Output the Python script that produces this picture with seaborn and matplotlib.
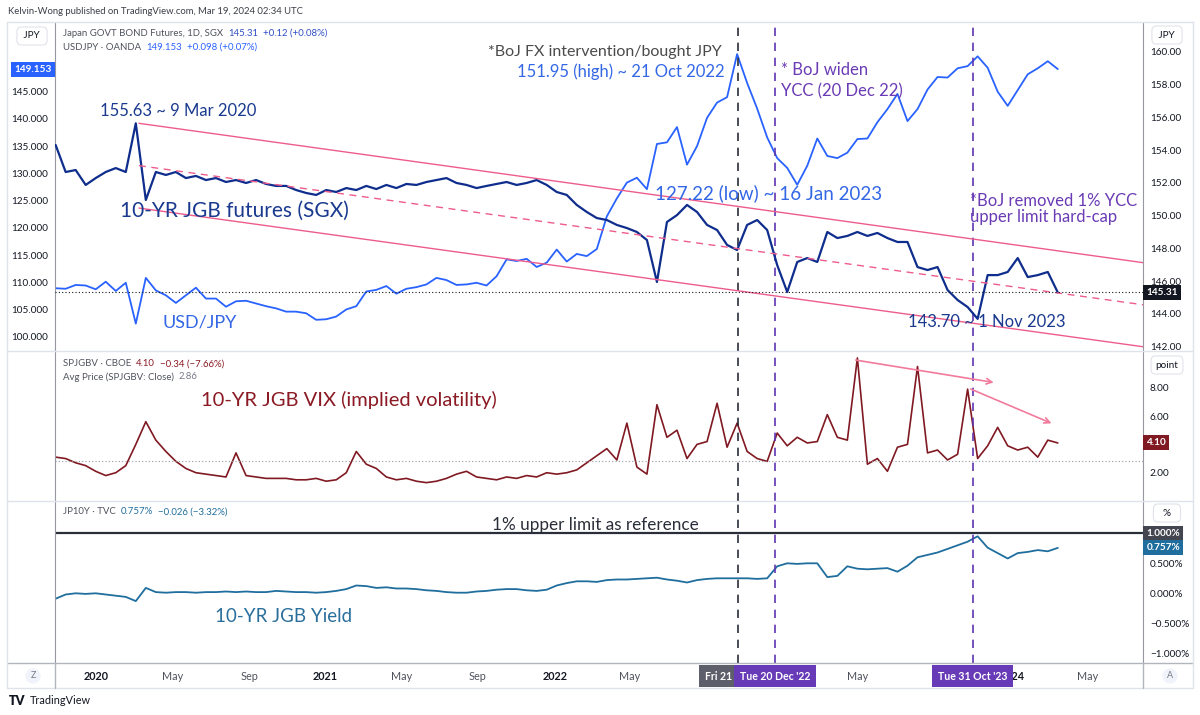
import numpy as np
import pandas as pd
import matplotlib.pyplot as plt
import matplotlib.transforms as mtransforms
from matplotlib.lines import Line2D
from matplotlib.ticker import FuncFormatter
import seaborn as sns

# readings taken every 16 days (one per ~10 px of the chart), starting 28 Oct 2019
start_date = '2019-10-28'
step = '16D'

jgb_futures = [154.31, 152.66, 152.78, 151.87, 152.29, 152.66, 152.90, 152.66, 155.63, 150.95,
               152.66, 152.48, 152.66, 152.29, 152.42, 152.17, 152.29, 152.05, 152.17, 151.99,
               152.17, 151.93, 151.81, 151.81, 151.56, 151.38, 151.26, 151.56, 151.44, 151.68,
               151.56, 151.81, 151.62, 151.87, 151.68, 151.93, 151.87, 152.05, 152.17, 152.29,
               151.99, 151.87, 151.68, 151.81, 151.93, 152.05, 151.87, 151.99, 152.17, 151.87,
               151.44, 151.26, 150.65, 150.22, 149.85, 149.73, 149.43, 149.24, 149.00, 148.51,
               145.95, 149.61, 150.03, 150.65, 150.22, 149.43, 149.12, 148.21, 147.90, 149.43,
               149.73, 149.12, 146.98, 145.34, 147.17, 147.41, 147.17, 149.00, 148.63, 148.76,
               149.00, 148.76, 148.94, 148.63, 148.39, 148.39, 146.86, 146.68, 146.86, 145.46,
               144.85, 144.42, 143.70, 146.37, 146.37, 146.56, 147.41, 146.25, 146.37, 146.56,
               145.31]

usdjpy = [108.9, 108.8, 109.5, 109.4, 108.7, 110.1, 108.4, 109.9, 102.4, 110.8,
          108.5, 107.6, 106.2, 107.6, 109.0, 107.0, 107.0, 105.5, 106.5, 106.6,
          106.1, 105.6, 105.2, 104.6, 104.6, 104.3, 103.1, 103.2, 103.7, 105.0,
          105.6, 108.3, 108.6, 109.3, 107.9, 108.8, 109.1, 109.6, 110.8, 110.4,
          109.5, 109.6, 109.9, 109.4, 111.1, 114.2, 113.9, 114.3, 112.8, 113.6,
          116.0, 113.8, 115.2, 114.8, 116.1, 122.1, 125.4, 128.3, 129.2, 127.1,
          135.4, 135.7, 138.5, 131.6, 135.0, 140.2, 143.0, 144.0, 151.9, 146.6,
          141.9, 136.6, 132.8, 131.0, 127.9, 131.4, 136.4, 133.2, 132.8, 133.8,
          136.3, 136.4, 139.4, 141.8, 144.6, 139.6, 141.8, 145.4, 147.7, 147.6,
          149.3, 149.7, 151.5, 149.4, 145.0, 142.4, 145.3, 148.2, 149.3, 150.6,
          149.15]

jgb_vix = [3.1, 3.0, 2.7, 2.5, 2.1, 1.8, 2.0, 2.5, 4.0, 5.6,
           4.3, 3.5, 2.8, 2.3, 2.0, 1.9, 1.8, 1.7, 3.4, 1.8,
           1.7, 1.6, 1.6, 1.6, 1.5, 1.5, 1.6, 1.4, 1.5, 2.0,
           3.5, 2.6, 2.3, 1.7, 1.5, 1.6, 1.4, 1.3, 1.4, 1.6,
           1.9, 2.1, 1.7, 1.6, 1.5, 1.7, 1.6, 1.8, 1.7, 2.0,
           1.9, 2.0, 2.2, 2.7, 3.2, 3.7, 2.9, 5.5, 2.4, 1.9,
           6.8, 4.5, 5.0, 3.0, 4.0, 4.2, 6.9, 3.8, 5.5, 3.5,
           3.0, 2.8, 4.8, 3.9, 4.5, 4.1, 4.2, 6.1, 4.5, 4.3,
           10.1, 2.6, 3.0, 2.1, 3.8, 4.0, 9.5, 3.4, 3.6, 2.9,
           3.3, 7.9, 3.0, 3.9, 5.2, 3.9, 3.6, 3.8, 3.1, 4.3,
           4.10]

jgb_yield = [-0.09, -0.02, 0.00, -0.01, 0.00, -0.02, -0.04, -0.06, -0.13, 0.09,
             0.02, 0.01, 0.02, 0.02, 0.01, 0.02, 0.02, 0.03, 0.02, 0.03,
             0.02, 0.02, 0.04, 0.03, 0.02, 0.02, 0.01, 0.02, 0.04, 0.07,
             0.13, 0.12, 0.09, 0.10, 0.08, 0.08, 0.07, 0.05, 0.04, 0.02,
             0.01, 0.01, 0.03, 0.04, 0.06, 0.07, 0.07, 0.05, 0.04, 0.06,
             0.13, 0.17, 0.20, 0.20, 0.19, 0.22, 0.23, 0.23, 0.24, 0.25,
             0.26, 0.23, 0.21, 0.18, 0.22, 0.24, 0.25, 0.25, 0.25, 0.25,
             0.24, 0.25, 0.45, 0.50, 0.49, 0.50, 0.50, 0.27, 0.29, 0.45,
             0.41, 0.40, 0.41, 0.42, 0.36, 0.46, 0.60, 0.64, 0.68, 0.74,
             0.80, 0.86, 0.95, 0.76, 0.67, 0.58, 0.67, 0.69, 0.72, 0.70,
             0.757]

# last values and reference levels
jgb_last = 145.31
usdjpy_last = 149.153
vix_last = 4.10
vix_avg = 2.86
yield_last = 0.757
yield_cap = 1.0

# descending channel on the JGB futures
channel_dates = ['2020-03-09', '2024-07-29']
channel_upper = [155.63, 147.13]
channel_mid = [153.05, 144.56]
channel_lower = [150.46, 142.00]

# lower highs on the VIX
vix_arrow_starts = [('2023-04-23', 9.98), ('2023-10-24', 7.98)]
vix_arrow_ends = [('2023-12-08', 8.34), ('2024-03-09', 5.41)]

# BoJ events
event_dates = ['2022-10-21', '2022-12-20', '2023-10-31']
event_tags = ['Fri 21', "Tue 20 Dec '22", "Tue 31 Oct '23"]
event_line_colors = ['#2a2e39', '#5e35b1', '#5e35b1']
event_tag_colors = ['#5d606b', '#673ab7', '#673ab7']

# time scale labels (the ones hidden behind the event tags are left out)
tick_dates = ['2020-01-01', '2020-05-01', '2020-09-01', '2021-01-01', '2021-05-03', '2021-09-01',
              '2022-01-03', '2022-05-02', '2023-05-01', '2024-01-02', '2024-05-01']
tick_labels = ['2020', 'May', 'Sep', '2021', 'May', 'Sep', '2022', 'May', 'May', '2024', 'May']

df = pd.DataFrame({
    'date': pd.date_range(start_date, periods=len(jgb_futures), freq=step),
    'jgb': jgb_futures,
    'usdjpy': usdjpy,
    'vix': jgb_vix,
    'yield': jgb_yield,
})

sns.set_style('white')
plt.rcParams['font.family'] = ['Lato', 'DejaVu Sans']

W, H = 1200, 715
fig = plt.figure(figsize=(W / 100, H / 100), dpi=100)
renderer = fig.canvas.get_renderer()


def rect(x0, y0, x1, y1):
    return [x0 / W, 1 - y1 / H, (x1 - x0) / W, (y1 - y0) / H]


def fpos(x, y):
    return x / W, 1 - y / H


def yrange(ref_val, ref_px, px_per_unit, top_px, bottom_px):
    return (ref_val - (bottom_px - ref_px) / px_per_unit,
            ref_val + (ref_px - top_px) / px_per_unit)


def hline(y, x0, x1, color='#e0e3eb', lw=1.0):
    fig.add_artist(Line2D([x0 / W, x1 / W], [1 - y / H, 1 - y / H], color=color, lw=lw))


def vline(x, y0, y1, color='#e0e3eb', lw=1.0):
    fig.add_artist(Line2D([x / W, x / W], [1 - y0 / H, 1 - y1 / H], color=color, lw=lw))


ax1 = fig.add_axes(rect(55, 22, 1143, 351))
axr = ax1.twinx()
ax2 = fig.add_axes(rect(55, 351, 1143, 501), sharex=ax1)
ax3 = fig.add_axes(rect(55, 501, 1143, 663), sharex=ax1)

# panel 1: USD/JPY (left scale) and JGB futures (right scale)
sns.lineplot(data=df, x='date', y='usdjpy', ax=ax1, color='#2962ff', lw=1.3)
sns.lineplot(data=df, x='date', y='jgb', ax=axr, color='#0f2d8c', lw=1.6)
ch_x = pd.to_datetime(channel_dates)
axr.plot(ch_x, channel_upper, color='#ee5c8c', lw=1.0)
axr.plot(ch_x, channel_lower, color='#ee5c8c', lw=1.0)
axr.plot(ch_x, channel_mid, color='#ee5c8c', lw=1.0, ls=(0, (5, 4)))
axr.axhline(jgb_last, color='#131722', lw=0.8, ls=(0, (1, 2)))

# panel 2: JGB VIX
sns.lineplot(data=df, x='date', y='vix', ax=ax2, color='#801922', lw=1.2)
ax2.axhline(vix_avg, color='#9598a1', lw=0.8, ls=(0, (1, 2)))
for (d0, v0), (d1, v1) in zip(vix_arrow_starts, vix_arrow_ends):
    ax2.annotate('', xy=(pd.Timestamp(d1), v1), xytext=(pd.Timestamp(d0), v0),
                 arrowprops=dict(arrowstyle='->', color='#f27a9c', lw=1.2))

# panel 3: 10Y JGB yield
sns.lineplot(data=df, x='date', y='yield', ax=ax3, color='#1f6e9e', lw=1.3)
ax3.axhline(yield_cap, color='#2a2e39', lw=1.6)

for d, c in zip(event_dates, event_line_colors):
    for ax in (ax1, ax2, ax3):
        ax.axvline(pd.Timestamp(d), color=c, lw=1.2, ls=(0, (5, 4)))

# axes, scales and ticks
ax1.set_xlim(pd.Timestamp('2019-10-27'), pd.Timestamp('2024-07-29'))
ax1.set_ylim(yrange(145, 91.7, 5.444, 22, 351))
axr.set_ylim(yrange(160, 51.7, 16.39, 22, 351))
ax2.set_ylim(yrange(8, 387.7, 14.17, 351, 501))
ax3.set_ylim(yrange(1.0, 533.3, 60, 501, 663))

ax1.set_yticks(np.arange(100, 146, 5))
ax1.yaxis.set_major_formatter(FuncFormatter(lambda v, p: f'{v:.3f}'))
axr.set_yticks(np.arange(142, 161, 2))
axr.yaxis.set_major_formatter(FuncFormatter(lambda v, p: f'{v:.2f}'))
ax2.yaxis.tick_right()
ax2.set_yticks([2, 6, 8])
ax2.yaxis.set_major_formatter(FuncFormatter(lambda v, p: f'{v:.2f}'))
ax3.yaxis.tick_right()
ax3.set_yticks([-1, -0.5, 0, 0.5])
ax3.yaxis.set_major_formatter(FuncFormatter(lambda v, p: f'{v:.3f}%'.replace('-', '\u2212')))

ax3.set_xticks(pd.to_datetime(tick_dates))
ax3.set_xticklabels(tick_labels)
for lbl in ax3.get_xticklabels():
    if lbl.get_text().isdigit():
        lbl.set_fontweight('bold')
        lbl.set_color('#131722')
    else:
        lbl.set_color('#50535e')

for ax in (ax1, axr, ax2, ax3):
    ax.set_xlabel('')
    ax.set_ylabel('')
    ax.tick_params(axis='y', length=0, labelsize=7.2, labelcolor='#131722', pad=5)
    ax.tick_params(axis='x', length=0, labelsize=7.8, pad=6)
    for s in ax.spines.values():
        s.set_visible(False)
for ax in (ax1, axr, ax2):
    ax.tick_params(axis='x', labelbottom=False)
for ax in (ax1, ax2, ax3):
    ax.spines['left'].set_visible(True)
    ax.spines['right'].set_visible(True)
    ax.spines['left'].set_color('#9598a1')
    ax.spines['right'].set_color('#9598a1')


# last value tags on the price scales
def value_tag(ax, value, text, fc, side='right'):
    tr = mtransforms.blended_transform_factory(ax.transAxes, ax.transData)
    x, ha = (1.003, 'left') if side == 'right' else (-0.003, 'right')
    ax.text(x, value, text, transform=tr, ha=ha, va='center', fontsize=7.2,
            color='white', fontweight='bold', clip_on=False, zorder=10,
            bbox=dict(boxstyle='square,pad=0.3', fc=fc, ec='none'))


value_tag(ax1, usdjpy_last, f'{usdjpy_last:.3f}', '#2962ff', side='left')
value_tag(axr, jgb_last, f'{jgb_last:.2f}', '#131722')
value_tag(ax2, vix_last, f'{vix_last:.2f}', '#801922')
value_tag(ax3, yield_cap, f'{yield_cap:.3f}%', '#434651')
value_tag(ax3, yield_last, f'{yield_last:.3f}%', '#1f6e9e')

# event date tags on the time scale
tr = mtransforms.blended_transform_factory(ax3.transData, fig.transFigure)
for i, (d, t, c) in enumerate(zip(event_dates, event_tags, event_tag_colors)):
    if i == 0:
        # the first tag is pushed left, its tail is hidden by the next one
        ha, trans = 'right', mtransforms.offset_copy(tr, fig=fig, x=-6, y=0, units='dots')
    else:
        ha, trans = 'center', tr
    ax3.text(pd.Timestamp(d), fpos(0, 676)[1], t, transform=trans, ha=ha, va='center',
             fontsize=7.6, color='white', fontweight='bold', clip_on=False, zorder=20 + i,
             bbox=dict(boxstyle='square,pad=0.55', fc=c, ec='none'))

# frame lines
for y in (22, 351, 501):
    hline(y, 7, 1193)
hline(663, 7, 1193, color='#b2b5be')
hline(688, 7, 1193)
vline(7, 22, 688)
vline(1193, 22, 688)
vline(55, 663, 688, color='#b2b5be')
vline(1143, 663, 688, color='#b2b5be')


# unit buttons and corner buttons
def button(x, y, s, size=7.2, style='round,pad=0.45'):
    fig.text(*fpos(x, y), s, ha='center', va='center', fontsize=size, color='#131722', zorder=6,
             bbox=dict(boxstyle=style, fc='white', ec='#e0e3eb', lw=0.8))


button(32, 36, ' JPY ')
button(1167, 35, ' JPY ')
button(1167, 365, 'point')
button(1167, 513, '  %  ')
for x, s in ((33, 'Z'), (1170, 'A')):
    fig.text(*fpos(x, 676), s, ha='center', va='center', fontsize=6.5, color='#787b86',
             bbox=dict(boxstyle='circle,pad=0.35', fc='#f0f3fa', ec='none'))


def txt(x, y, s, color, size, **kw):
    return fig.text(*fpos(x, y), s, ha=kw.pop('ha', 'left'), va='center', color=color,
                    fontsize=size, **kw)


def legend_row(x, y, parts, size=6.9, gap=5):
    # several coloured pieces side by side, like the pane legends
    for s, c in parts:
        t = txt(x, y, s, c, size)
        x += t.get_window_extent(renderer).width + gap


txt(8, 12, 'Kelvin-Wong published on TradingView.com, Mar 19, 2024 02:34 UTC', '#3c3f48', 6.8)
legend_row(63, 33, [('Japan GOVT BOND Futures, 1D, SGX', '#50535e'),
                    ('145.31', '#2f4fc4'), ('+0.12 (+0.08%)', '#2f4fc4')])
legend_row(63, 47, [('USDJPY \u00b7 OANDA', '#50535e'),
                    ('149.153', '#2962ff'), ('+0.098 (+0.07%)', '#2962ff')])
legend_row(63, 364, [('SPJGBV \u00b7 CBOE', '#50535e'),
                     ('4.10', '#8b1a24'), ('\u22120.34 (\u22127.66%)', '#8b1a24')])
legend_row(63, 377, [('Avg Price (SPJGBV: Close)', '#50535e'), ('2.86', '#787b86')])
legend_row(63, 512, [('JP10Y \u00b7 TVC', '#50535e'),
                     ('0.757%', '#1f6e9e'), ('\u22120.026 (\u22123.32%)', '#1f6e9e')])

# chart annotations
navy, blue, purple = '#1a3a8f', '#3367e6', '#6a3bb5'
txt(100, 111, '155.63 ~ 9 Mar 2020', navy, 12)
txt(120, 211, '10-YR JGB futures (SGX)', navy, 15)
txt(162, 323, 'USD/JPY', blue, 13)
txt(488, 52, '*BoJ FX intervention/bought JPY', '#4a4a4a', 11.5)
txt(517, 72, '151.95 (high) ~ 21 Oct 2022', blue, 12)
txt(781, 70, '* BoJ widen', purple, 12)
txt(781, 91, 'YCC (20 Dec 22)', purple, 12)
txt(655, 193, '127.22 (low) ~ 16 Jan 2023', blue, 13.5)
txt(970, 201, '*BoJ removed 1% YCC', purple, 12)
txt(970, 217, 'upper limit hard-cap', purple, 12)
txt(908, 322, '143.70 ~ 1 Nov 2023', navy, 12)
txt(201, 400, '10-YR JGB VIX (implied volatility)', '#8b1a24', 14.5)
txt(492, 525, '1% upper limit as reference', '#2a2e39', 12.3)
txt(215, 617, '10-YR JGB Yield', '#2a6f9c', 13.5)

# footer
txt(9, 701, 'TV', '#131722', 9, fontweight='heavy')
txt(30, 701, 'TradingView', '#131722', 7.8)

fig.savefig('out.png', dpi=100, facecolor='white')
